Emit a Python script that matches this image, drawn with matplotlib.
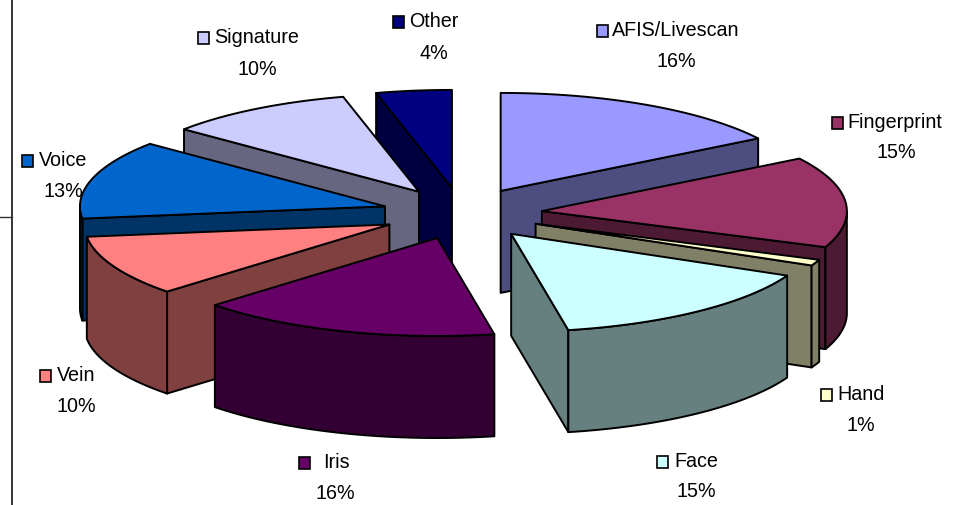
import numpy as np
import matplotlib
matplotlib.use("Agg")
from matplotlib import pyplot as plt
from matplotlib.patches import Polygon, Rectangle

# chart data
names = ["AFIS/Livescan", "Fingerprint", "Hand", "Face", "Iris", "Vein", "Voice", "Signature", "Other"]
values = [16, 15, 1, 15, 16, 10, 13, 10, 4]
colors = ["#9999FF", "#993366", "#FFFFCC", "#CCFFFF", "#660066", "#FF8080", "#0066CC", "#CCCCFF", "#000080"]
side_colors = ["#4D4D80", "#4D1A33", "#808066", "#668080", "#330033", "#804040", "#003366", "#666680", "#000040"]

# label layout in pixels: swatch left, name centre x, name y, percent centre x, percent y
label_layout = [
    (597, 676, 30, 676, 61),
    (832, 895, 122, 896, 152),
    (821, 861, 394, 861, 425),
    (657, 696, 461, 696, 491),
    (299, 336, 462, 335, 493),
    (40, 76, 375, 76, 406),
    (22, 63, 160, 63, 191),
    (198, 257, 37, 257, 69),
    (393, 434, 21, 434, 53),
]

# pie geometry
cx, cy = 462, 213.5
rx, ry = 305, 98
depth = 102
explode = 0.263

plt.rcParams['font.family'] = ['Liberation Sans', 'DejaVu Sans']

fig = plt.figure(figsize=(9.61, 5.05), dpi=100)
ax = fig.add_axes([0, 0, 1, 1])
ax.set_xlim(0, 961)
ax.set_ylim(505, 0)
ax.axis('off')

# frame bits left over from the slide
ax.plot([11.5, 11.5], [0, 505], color='black', lw=1.1, zorder=1)
ax.plot([0, 11.5], [216.5, 216.5], color='#333333', lw=1.0, zorder=1)

# labels go under the pie
for i, (sx, nx, ny, px, py) in enumerate(label_layout):
    ax.add_patch(Rectangle((sx, ny - 5.5), 11, 12, facecolor=colors[i], edgecolor='black', lw=1.2, zorder=2))
    ax.text(nx, ny + 0.5, names[i], ha='center', va='center', fontsize=14.2, color='black', zorder=2)
    ax.text(px, py + 0.5, f"{values[i]}%", ha='center', va='center', fontsize=14.2, color='black', zorder=2)


def rim(theta):
    return np.sin(theta) * rx, -np.cos(theta) * ry


def add_poly(xs, ys, color, z):
    ax.add_patch(Polygon(np.column_stack([xs, ys]), closed=True, facecolor=color, edgecolor='black',
                         lw=1.4, joinstyle='round', zorder=z))


ends = np.cumsum(values) / np.sum(values) * 2 * np.pi
starts = ends - np.array(values) / np.sum(values) * 2 * np.pi
mids = (starts + ends) / 2
apex_x = cx + explode * rx * np.sin(mids)
apex_y = cy - explode * ry * np.cos(mids)

# back slices first
z = 3
for i in np.argsort(apex_y):
    a0, a1 = starts[i], ends[i]
    ax0, ay0 = apex_x[i], apex_y[i]

    # radial walls, only the ones facing the viewer
    for ang, show in ((a0, np.sin(a0) < 0), (a1, np.sin(a1) > 0)):
        if show:
            dx, dy = rim(ang)
            add_poly([ax0, ax0 + dx, ax0 + dx, ax0],
                     [ay0, ay0 + dy, ay0 + dy + depth, ay0 + depth], side_colors[i], z)
            z += 1

    # outer wall on the front half
    lo, hi = max(a0, np.pi / 2), min(a1, 3 * np.pi / 2)
    if hi > lo:
        t = np.linspace(lo, hi, 60)
        dx, dy = rim(t)
        add_poly(np.r_[ax0 + dx, ax0 + dx[::-1]], np.r_[ay0 + dy, ay0 + dy[::-1] + depth], side_colors[i], z)
        z += 1

    # top face
    t = np.linspace(a0, a1, 80)
    dx, dy = rim(t)
    add_poly(np.r_[ax0, ax0 + dx], np.r_[ay0, ay0 + dy], colors[i], z)
    z += 1

fig.savefig("out.png", dpi=100)
